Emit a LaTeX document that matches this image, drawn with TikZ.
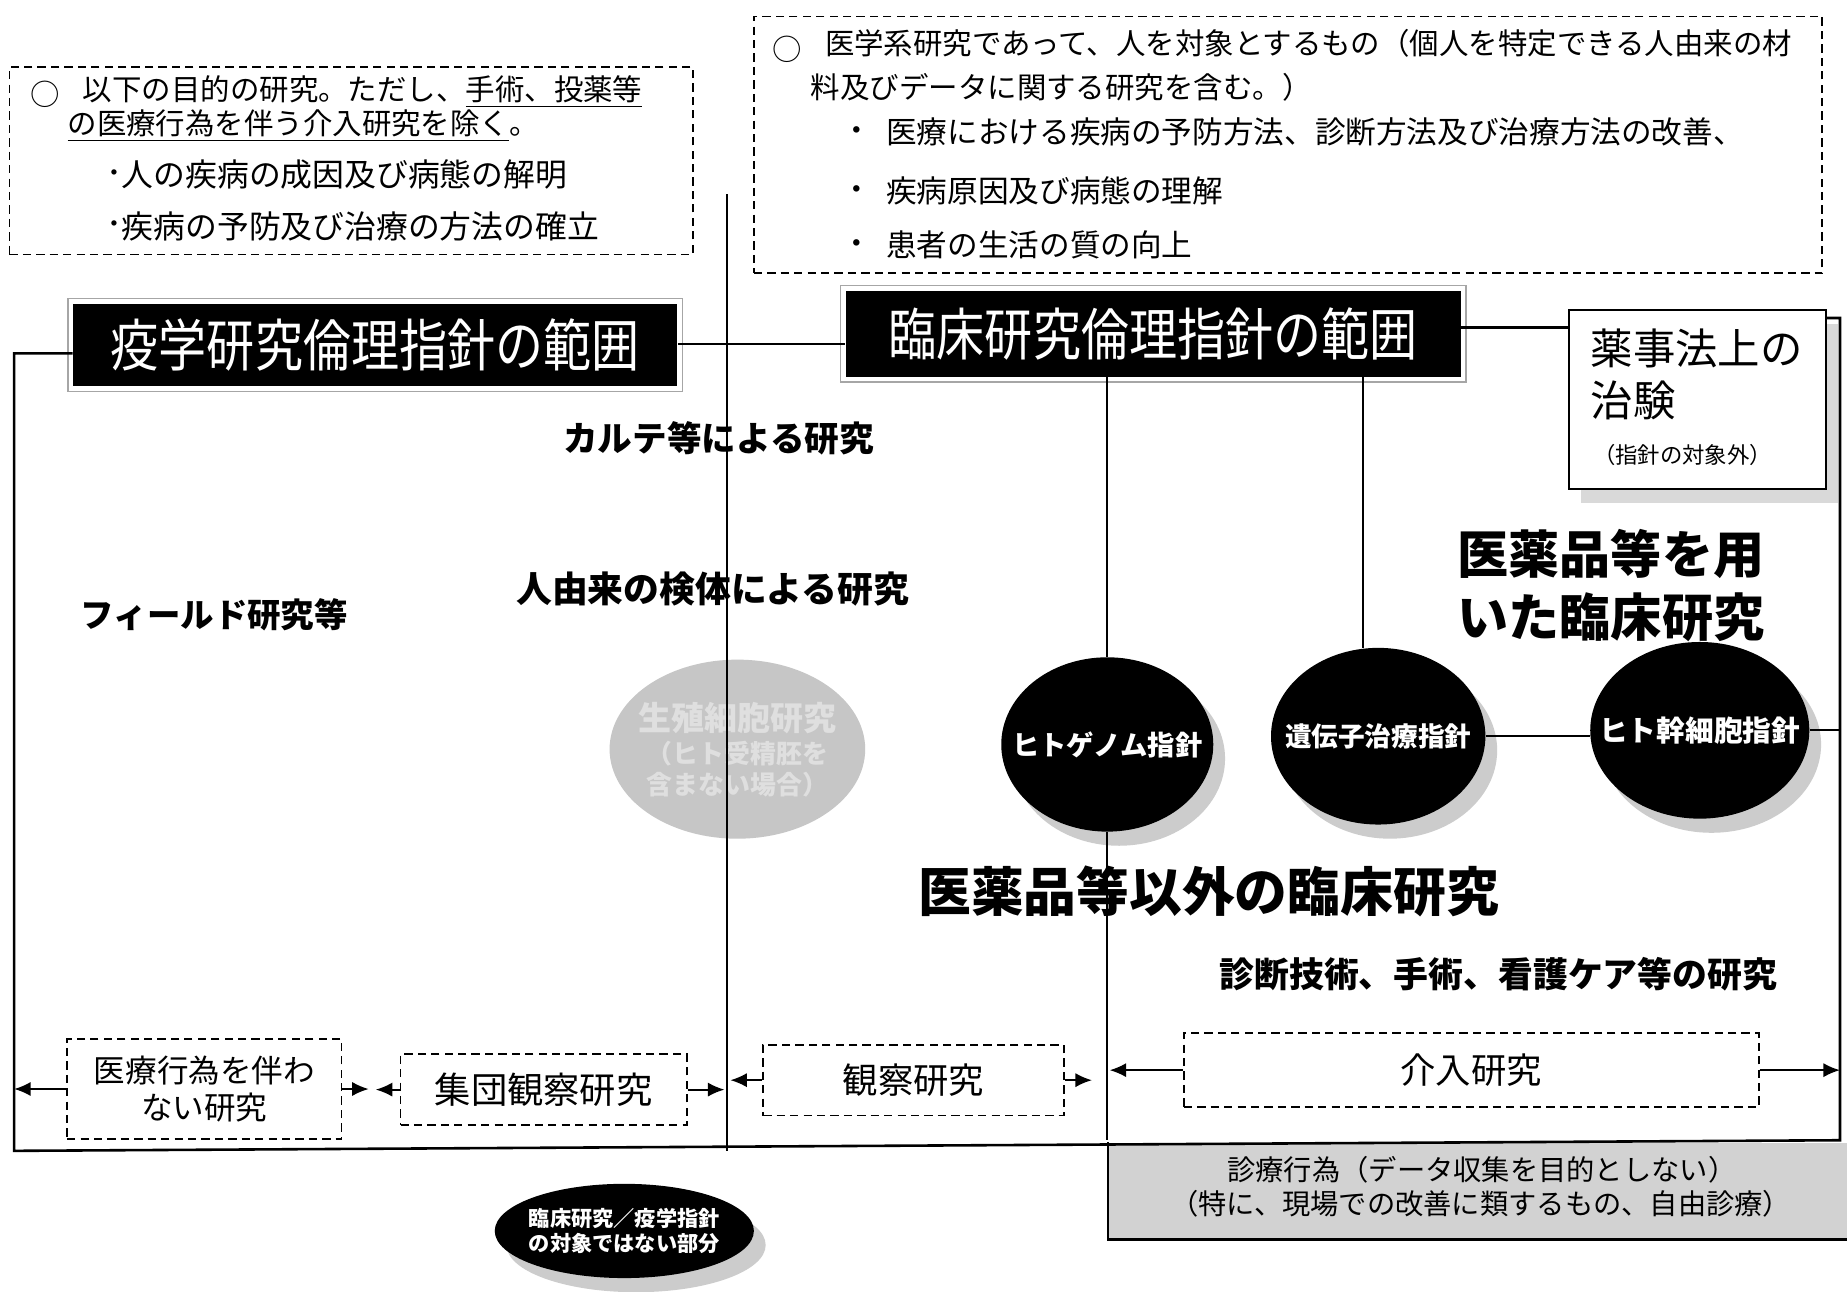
\documentclass[tikz,border=0pt]{standalone}
\usepackage{fontspec}
\setmainfont{Noto Sans CJK JP}
\usetikzlibrary{fit,arrows.meta,shapes.geometric,shadows}
\newcommand{\fsz}[2]{\fontsize{#1}{#2}\selectfont}
\begin{document}
\begin{tikzpicture}[x=0.5pt,y=-0.5pt,
  txt/.style={inner sep=0pt, anchor=west},
  ctxt/.style={inner sep=0pt},
  dashbox/.style={draw, dashed, dash pattern=on 3.5pt off 2.2pt, line width=0.75pt, inner sep=0pt},
  blk/.style={fill=black, inner sep=0pt},
  frm/.style={draw=gray!70, line width=0.6pt},
  mainln/.style={line width=1.1pt},
  thinln/.style={line width=0.8pt},
  arr/.style={line width=0.8pt, -{Latex[length=7pt,width=6pt]}},
  bell/.style={ellipse, fill=black, text=white, inner sep=0pt, font=\bfseries,
     drop shadow={shadow xshift=5pt, shadow yshift=-6pt, fill=gray!40, opacity=1}},
  bold/.style={inner sep=0pt, font=\bfseries}]

\useasboundingbox (0,0) rectangle (1568,1096);
\fill[white] (0,0) rectangle (1568,1096);

% ---------- top-left dashed box
\node[dashbox, fit={(8,57)(588,216)}] (tlb) {};
\node[ctxt, font=\fsz{12.5}{15}] (tlo) at (38,80) {○};
\node[txt, font=\fsz{12.5}{15}] (tl1) at (70,78) {以下の目的の研究。ただし、\underline{手術、投薬等}};
\node[txt, font=\fsz{12.5}{15}] (tl2) at (57,107) {\underline{の医療行為を伴う介入研究を除く}。};
\node[ctxt, font=\fsz{13.5}{15}] (tlb1) at (97,150) {･};
\node[txt, font=\fsz{13.5}{15}] (tl3) at (103,148) {人の疾病の成因及び病態の解明};
\node[ctxt, font=\fsz{13.5}{15}] (tlb2) at (97,194) {･};
\node[txt, font=\fsz{13.5}{15}] (tl4) at (103,192) {疾病の予防及び治療の方法の確立};

% ---------- top-right dashed box
\node[dashbox, fit={(640,14)(1547,232)}] (trb) {};
\node[ctxt, font=\fsz{12.5}{15}] (tro) at (668,42) {○};
\node[txt, font=\fsz{12.5}{15}] (tr1) at (700,37) {医学系研究であって、人を対象とするもの（個人を特定できる人由来の材};
\node[txt, font=\fsz{12.5}{15}] (tr2) at (688,74) {料及びデータに関する研究を含む。）};
\node[ctxt, font=\fsz{13}{15}] (trb1) at (727,114) {・};
\node[txt, font=\fsz{13}{15}] (tr3) at (752,112) {医療における疾病の予防方法、診断方法及び治療方法の改善、};
\node[ctxt, font=\fsz{13}{15}] (trb2) at (727,164) {・};
\node[txt, font=\fsz{13}{15}] (tr4) at (752,162) {疾病原因及び病態の理解};
\node[ctxt, font=\fsz{13}{15}] (trb3) at (727,210) {・};
\node[txt, font=\fsz{13}{15}] (tr5) at (752,208) {患者の生活の質の向上};

% ---------- title boxes
\node[blk, fit={(62,258)(575,328)}] (yk) {};
\node[ctxt, text=white, font=\fsz{24}{28}] (ykt) at (yk) {\scalebox{0.85}[1]{疫学研究倫理指針の範囲}};
\draw[frm] ([shift={(-4,-4)}]yk.north west) rectangle ([shift={(4,4)}]yk.south east);
\node[blk, fit={(718,247)(1240,320)}] (rk) {};
\node[ctxt, text=white, font=\fsz{24}{28}] (rkt) at (rk) {\scalebox{0.85}[1]{臨床研究倫理指針の範囲}};
\draw[frm] ([shift={(-4,-4)}]rk.north west) rectangle ([shift={(4,4)}]rk.south east);

% ---------- 薬事法 box
\fill[gray!30] (1342,275) rectangle (1560,427);
\node[draw, fill=white, line width=0.8pt, inner sep=0pt, fit={(1332,263)(1550,415)}] (yj) {};
\node[txt, font=\fsz{18}{20}] (yj1) at (1350,296) {薬事法上の};
\node[txt, font=\fsz{18}{20}] (yj2) at (1350,340) {治験};
\node[txt, font=\fsz{9.5}{11}] (yj3) at (1352,386) {（指針の対象外）};

% ---------- frame coordinates
\coordinate (LT) at (12,300);
\coordinate (LB) at (12,977);
\coordinate (RT) at (1562,270);
\coordinate (RB) at (1562,968);
\coordinate (V1t) at (617,165);

% ---------- grey ellipse
\node[ellipse, fill=gray!45, minimum width=108.5pt, minimum height=76pt, inner sep=0pt] (ge) at (626,636) {};
\node[ctxt, font=\bfseries\fsz{14}{16}, text=white!75!gray] (ge1) at (626,610) {生殖細胞研究};
\node[ctxt, font=\bfseries\fsz{11}{13}, text=white!75!gray] (ge2) at (626,640) {（ヒト受精胚を};
\node[ctxt, font=\bfseries\fsz{11}{13}, text=white!75!gray] (ge3) at (626,666) {含まない場合）};

% ---------- black ellipses
\node[bell, minimum width=90pt, minimum height=74pt, font=\bfseries\fsz{11.6}{13}] (g1) at (940,632) {\makebox[0pt]{ヒトゲノム指針}};
\node[bell, minimum width=91pt, minimum height=75pt, font=\bfseries\fsz{11.3}{13}] (g2) at (1170,625) {\makebox[0pt]{遺伝子治療指針}};
\node[bell, minimum width=93pt, minimum height=75pt, font=\bfseries\fsz{12.2}{14}] (g3) at (1443,620) {\makebox[0pt]{ヒト幹細胞指針}};
\node[bell, minimum width=110pt, minimum height=40pt] (g4) at (530,1045) {};
\node[ctxt, font=\bfseries\fsz{9}{11}, text=white, align=center] (g4t) at (g4) {臨床研究／疫学指針\\の対象ではない部分};

% ---------- grey bottom-right box
\node[fill=gray!35, inner sep=0pt, fit={(941,970)(1568,1052)}] (gb) {};
\node[ctxt, font=\fsz{12}{14}] (gb1) at (1258,993) {診療行為（データ収集を目的としない）};
\node[ctxt, font=\fsz{12}{14}] (gb2) at (1257,1022) {（特に、現場での改善に類するもの、自由診療）};

% ---------- bold labels
\node[bold, font=\bfseries\fsz{14.7}{16}] (karte) at (610,372) {カルテ等による研究};
\node[bold, font=\bfseries\fsz{14.2}{16}] (field) at (182,522) {フィールド研究等};
\node[bold, font=\bfseries\fsz{15.2}{17}] (kentai) at (605,500) {人由来の検体による研究};
\node[bold, anchor=west, align=left, font=\bfseries\fsz{21.7}{26.5}] (iyaku) at (1237,497) {医薬品等を用\\いた臨床研究};
\node[bold, font=\bfseries\fsz{22.4}{26}] (igai) at (1026,757) {医薬品等以外の臨床研究};
\node[bold, font=\bfseries\fsz{14.8}{17}] (shindan) at (1272,827) {診断技術、手術、看護ケア等の研究};

% ---------- structural lines
\draw[mainln] (yk.west |- LT) -- (LT) -- (LB) -- (RB) -- (RT) -- (RT -| yj.east);
\draw[mainln] (yk.east |- 0,292) -- (rk.west |- 0,292);
\draw[mainln] (rk.east |- 0,278) -- (yj.west |- 0,278);
\draw[thinln] (V1t) -- (V1t |- LB);
\draw[thinln] (g1.north |- rk.south) -- (g1.north);
\draw[thinln] (g2.100 |- rk.south) -- (g2.100);
\draw[thinln] (g2.east) -- (g2.east -| g3.west);
\draw[thinln] (g3.east) -- (g3.east -| RT);
\draw[thinln] (g1.south) -- (g1.south |- RB);
\draw[mainln] (gb.north west) -- (gb.south west) -- (gb.south east);

% ---------- bottom dashed boxes
\node[dashbox, fit={(57,882)(290,967)}] (b1) {};
\node[ctxt, align=center, font=\fsz{13.4}{16}] (b1t) at (b1) {医療行為を伴わ\\ない研究};
\node[dashbox, fit={(340,895)(583,955)}] (b2) {};
\node[ctxt, font=\fsz{15.4}{18}] (b2t) at (b2) {集団観察研究};
\node[dashbox, fit={(648,887)(903,947)}] (b3) {};
\node[ctxt, font=\fsz{15}{18}] (b3t) at (b3) {観察研究};
\node[dashbox, fit={(1005,877)(1493,940)}] (b4) {};
\node[ctxt, font=\fsz{15}{18}] (b4t) at (b4) {介入研究};

% ---------- arrows
\coordinate (m12a) at (313,0);
\coordinate (m12b) at (319,0);
\coordinate (m23a) at (615,0);
\coordinate (m23b) at (620,0);
\coordinate (m34) at (927,0);
\coordinate (m4) at (942,0);
\draw[arr] (b1.west) -- (b1.west -| LT);
\draw[arr] (b1.east) -- (b1.east -| m12a);
\draw[arr] (b2.west) -- (b2.west -| m12b);
\draw[arr] (b2.east) -- (b2.east -| m23a);
\draw[arr] (b3.west) -- (b3.west -| m23b);
\draw[arr] (b3.east) -- (b3.east -| m34);
\draw[arr] (b4.west) -- (b4.west -| m4);
\draw[arr] (b4.east) -- (b4.east -| RT);
\end{tikzpicture}
\end{document}
